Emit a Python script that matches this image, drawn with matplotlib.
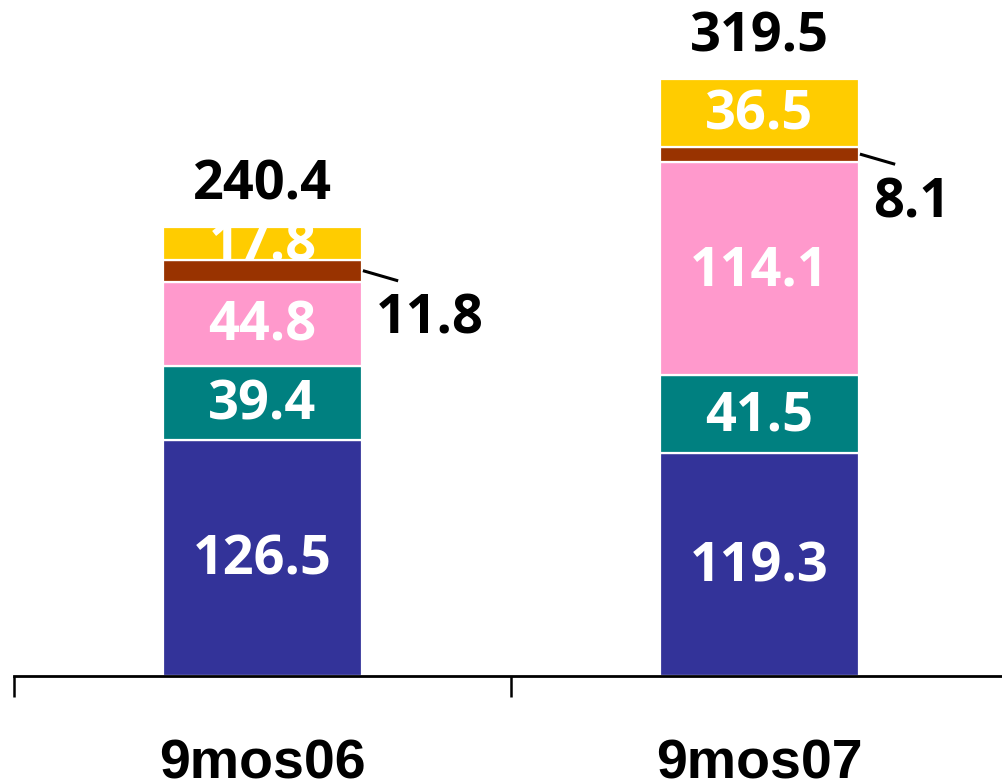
import matplotlib

matplotlib.use("Agg")

import matplotlib.pyplot as plt  # noqa: E402
import numpy as np  # noqa: E402

_DPI = 100
_INK = "#000000"

CATEGORIES = ["9mos06", "9mos07"]
SEGMENT_COLORS = ["#333399", "#008080", "#FF99CC", "#993300", "#FFCC00"]
SEGMENT_VALUES = [
    [126.5, 119.3],
    [39.4, 41.5],
    [44.8, 114.1],
    [11.8, 8.1],
    [17.8, 36.5],
]
TOTALS = [240.4, 319.5]
OUTSIDE_SEGMENT = 3  # thin brown slice gets a leader line

_VALUE_FONT = dict(family="Open Sans", fontweight="bold", fontsize=39)
_CAT_FONT = dict(family="Liberation Sans", fontweight="bold", fontsize=40)


def main() -> None:
    fig = plt.figure(figsize=(10.03, 7.84), dpi=_DPI)
    fig.patch.set_facecolor("white")
    ax = fig.add_axes([14 / 1003, 108 / 784, 994 / 1003, 673 / 784])

    x = np.arange(len(CATEGORIES)) + 0.5
    width = 0.4
    bottoms = np.zeros(len(CATEGORIES))
    for idx, (vals, color) in enumerate(zip(SEGMENT_VALUES, SEGMENT_COLORS)):
        vals = np.array(vals)
        ax.bar(x, vals, width, bottom=bottoms, color=color,
               edgecolor="white", linewidth=1.6, zorder=2)
        for xi, b, v in zip(x, bottoms, vals):
            mid = b + v / 2
            if idx == OUTSIDE_SEGMENT:
                ax.plot([xi + width / 2 + 0.005, xi + width / 2 + 0.07],
                        [mid, mid - 5], color=_INK, lw=2.2, zorder=3,
                        clip_on=False)
                ax.text(xi + width / 2 + 0.028, mid - 26, f"{v:.1f}",
                        ha="left", va="center", color=_INK, **_VALUE_FONT)
            else:
                ax.text(xi, mid - 1.5, f"{v:.1f}", ha="center", va="center",
                        color="white", zorder=4, **_VALUE_FONT)
        bottoms += vals

    for xi, t in zip(x, TOTALS):
        ax.text(xi, t + 22, f"{t:.1f}", ha="center", va="center",
                color=_INK, **_VALUE_FONT)

    for xi, c in zip(x, CATEGORIES):
        ax.text(xi, -0.152, c, transform=ax.get_xaxis_transform(),
                ha="center", va="baseline", color=_INK, **_CAT_FONT)

    ax.set_xlim(0, 2)
    ax.set_ylim(0, 360)
    ax.set_xticks([0, 1, 2])
    ax.set_xticklabels([])
    ax.set_yticks([])
    ax.tick_params(axis="x", direction="out", length=15, width=1.8,
                   color=_INK)
    for side in ("top", "right", "left"):
        ax.spines[side].set_visible(False)
    ax.spines["bottom"].set_linewidth(2.0)
    ax.spines["bottom"].set_color(_INK)

    fig.savefig("out.png", dpi=_DPI, facecolor="white")
    plt.close(fig)


if __name__ == "__main__":
    main()
